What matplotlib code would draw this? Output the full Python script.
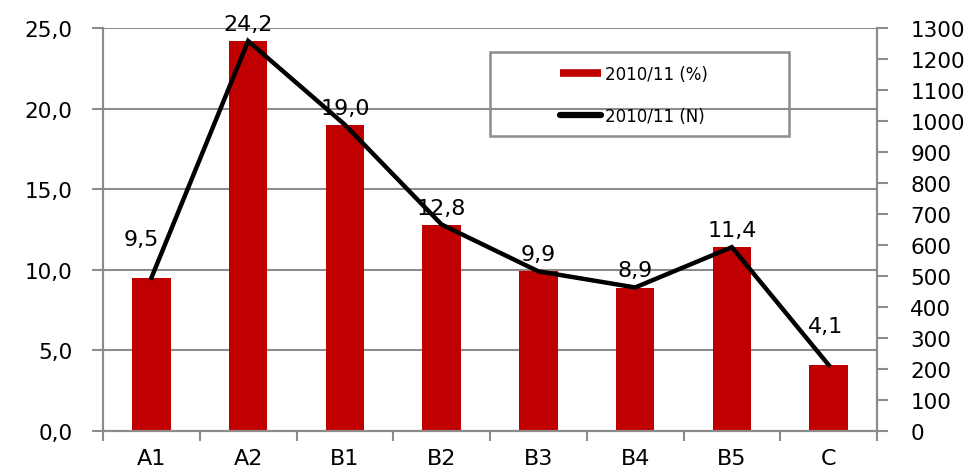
import matplotlib
matplotlib.use("Agg")
import matplotlib.pyplot as plt
from matplotlib.lines import Line2D
from matplotlib.patches import Rectangle

# Data
categories = ["A1", "A2", "B1", "B2", "B3", "B4", "B5", "C"]
pct_values = [9.5, 24.2, 19.0, 12.8, 9.9, 8.9, 11.4, 4.1]
n_values = [494, 1258, 988, 666, 515, 463, 593, 213]
pct_ticks = [0, 5, 10, 15, 20, 25]
n_ticks = list(range(0, 1301, 100))
series_labels = ["2010/11 (%)", "2010/11 (N)"]

# Label placement tweaks (points): extra lift / shift where the line would overlap
label_dy = [24, 8, 8, 8, 8, 8, 8, 24]
label_dx = [-7, 0, 0, 0, 0, 0, 0, -2]

BAR = "#C00000"
GRID = "#8C8C8C"

plt.rcParams["font.family"] = ["DejaVu Sans"]

fig = plt.figure(figsize=(9.79, 4.77), dpi=100)
ax = fig.add_axes([103 / 979, 45 / 477, 774 / 979, 403 / 477])
x = list(range(len(categories)))

ax.bar(x, pct_values, width=0.4, color=BAR, zorder=2)
ax.set_xlim(-0.5, len(categories) - 0.5)
ax.set_ylim(0, 25)
ax.set_yticks(pct_ticks)
ax.set_yticklabels([f"{v:.1f}".replace(".", ",") for v in pct_ticks], fontsize=15.5)
ax.yaxis.grid(True, color=GRID, linewidth=1.5, zorder=0)
ax.set_axisbelow(True)
ax.tick_params(axis="y", direction="out", length=8, width=1.5, color=GRID, pad=14)

# category ticks sit between the bars, labels centred under them
ax.set_xticks([i + 0.5 for i in x[:-1]] + [-0.5, len(categories) - 0.5])
ax.set_xticklabels([])
ax.set_xticks(x, minor=True)
ax.set_xticklabels(categories, minor=True, fontsize=16)
ax.tick_params(axis="x", which="major", direction="out", length=7, width=1.5, color=GRID)
ax.tick_params(axis="x", which="minor", length=0, pad=12)

ax.spines["top"].set_visible(False)
for side in ("left", "bottom", "right"):
    ax.spines[side].set_color(GRID)
    ax.spines[side].set_linewidth(1.5)

for i, v in enumerate(pct_values):
    ax.annotate(f"{v:.1f}".replace(".", ","), (i, v),
                xytext=(label_dx[i], label_dy[i]), textcoords="offset points",
                ha="center", va="baseline", fontsize=16, zorder=3)

ax2 = ax.twinx()
ax2.plot(x, n_values, color="black", linewidth=3.2, solid_joinstyle="miter", zorder=4)
ax2.set_ylim(0, 1300)
ax2.set_yticks(n_ticks)
ax2.set_yticklabels([str(v) for v in n_ticks], fontsize=15.5)
ax2.tick_params(axis="y", direction="out", length=8, width=1.5, color=GRID, pad=16)
ax2.spines["top"].set_visible(False)
for side in ("left", "bottom", "right"):
    ax2.spines[side].set_color(GRID)
    ax2.spines[side].set_linewidth(1.5)

# Legend with an unfilled frame
frame = Rectangle((0.5, 0.732), 0.386, 0.208, transform=ax.transAxes,
                  fill=False, edgecolor=GRID, linewidth=1.8, zorder=5, clip_on=False)
ax2.add_patch(frame)
handles = [Line2D([], [], color=BAR, linewidth=5.5, solid_capstyle="butt"),
           Line2D([], [], color="black", linewidth=4.5, solid_capstyle="round")]
ax2.legend(handles, series_labels, loc="center left", bbox_to_anchor=(0.590, 0.834),
           frameon=False, fontsize=12, handlelength=2.5, handletextpad=0.25,
           labelspacing=1.4, borderpad=0, borderaxespad=0)

fig.savefig("out.png", dpi=100)
